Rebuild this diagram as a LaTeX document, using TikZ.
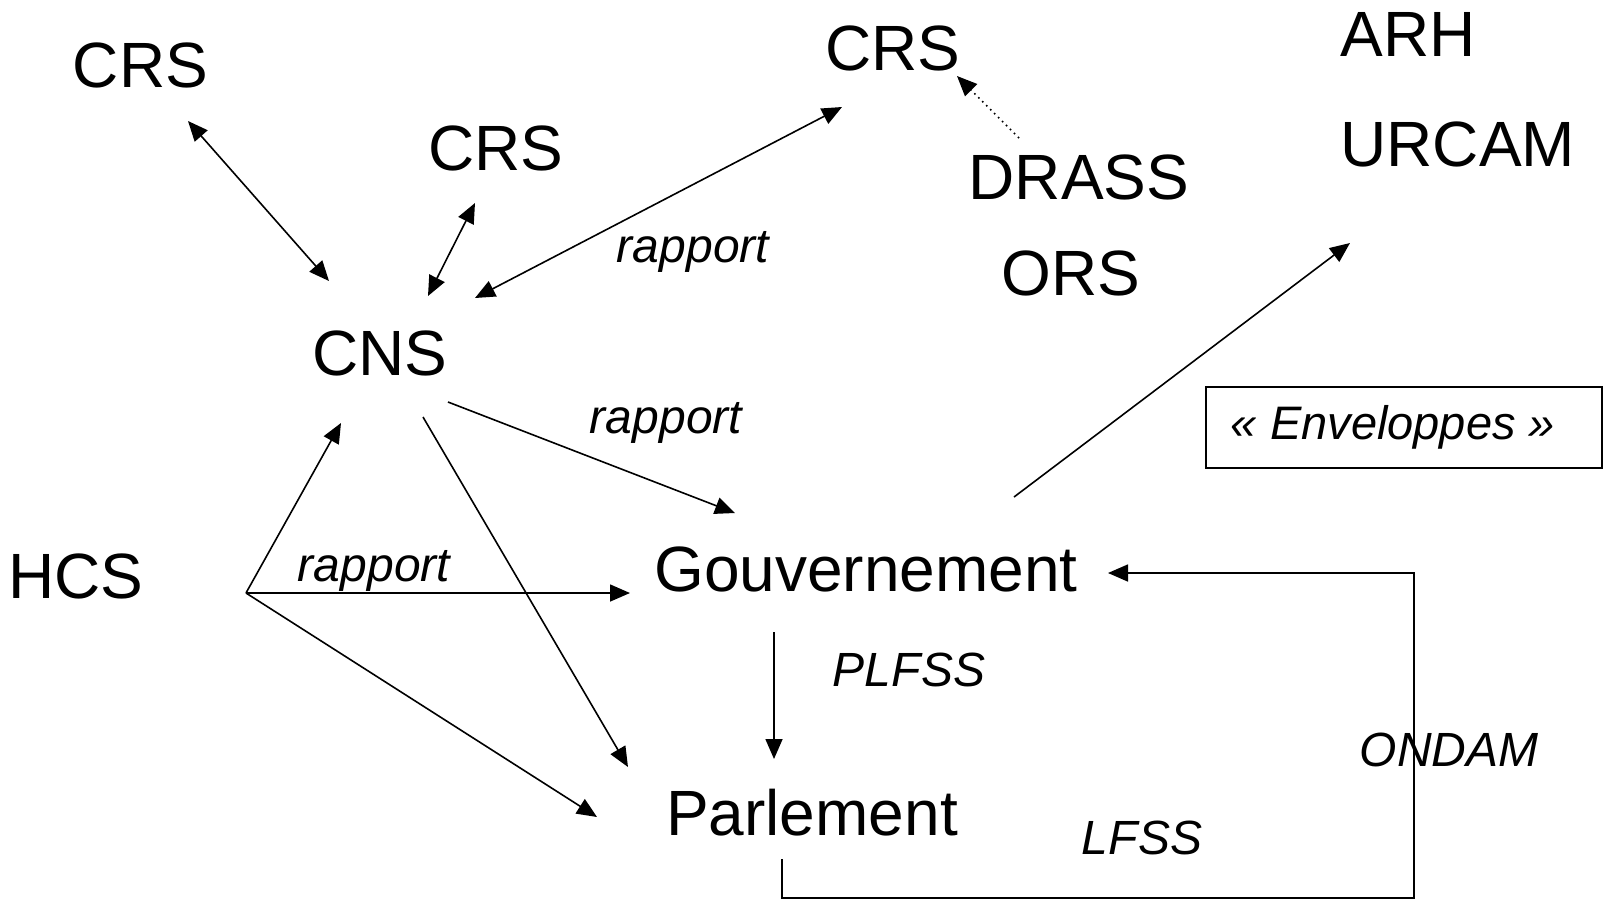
\documentclass[tikz,border=0pt]{standalone}
\usepackage{fontspec}
\setmainfont{Liberation Sans}
\usetikzlibrary{arrows.meta}
\begin{document}
\begin{tikzpicture}[x=0.5pt,y=-0.5pt,
  big/.style={font=\fontsize{32}{36}\selectfont, inner sep=0pt},
  lbl/.style={font=\fontsize{24}{28}\selectfont\itshape, inner sep=0pt},
  tip/.style={},
  conn/.style={line width=0.8pt, -{Triangle[length=10pt,width=8.5pt]}},
  biconn/.style={line width=0.8pt, {Triangle[length=10pt,width=8.5pt]}-{Triangle[length=10pt,width=8.5pt]}},
  plain/.style={line width=0.8pt}]
\useasboundingbox (0,0) rectangle (1608,907);
% text nodes
\node[big] (crs1) at (140.5,65) {CRS};
\node[big] (crs2) at (496,148) {CRS};
\node[big] (crs3) at (893,48) {CRS};
\node[big, anchor=west] (arh) at (1340,34) {ARH};
\node[big, anchor=west] (urcam) at (1340,144) {URCAM};
\node[big] (drass) at (1079,177) {DRASS};
\node[big] (ors) at (1071,273) {ORS};
\node[big] (cns) at (380,353) {CNS};
\node[big] (hcs) at (76,576) {HCS};
\node[big] (gouv) at (866,569) {Gouvernement};
\node[big] (parl) at (812,813) {Parlement};
\node[draw, line width=0.8pt, minimum width=198pt, minimum height=40.5pt, inner sep=0pt] (env) at (1404,427.5) {};
\node[lbl, font=\fontsize{23.5}{28}\selectfont\itshape] (envtxt) at (1393,427) {« Enveloppes »};
% labels
\node[lbl] (r1) at (693,252) {rapport};
\node[lbl] (r2) at (666,423) {rapport};
\node[lbl] (r3) at (374,571) {rapport};
\node[lbl] (plfss) at (909,670) {PLFSS};
\node[lbl] (ondam) at (1449,750) {ONDAM};
\node[lbl] (lfss) at (1142,838) {LFSS};
% endpoints
\coordinate (a1) at (188,121); \coordinate (b1) at (329,281);
\coordinate (a2) at (475,203); \coordinate (b2) at (428,296);
\coordinate (a3) at (842,107); \coordinate (b3) at (475,298);
\coordinate (a4) at (1019,138); \coordinate (b4) at (957,76);
\coordinate (a5) at (448,402); \coordinate (b5) at (735,513);
\coordinate (a6) at (423,417); \coordinate (b6) at (628,767);
\coordinate (hj) at (246,593);
\coordinate (b7) at (341,423);
\coordinate (b8) at (630,593);
\coordinate (b9) at (597,817);
\coordinate (a10) at (1014,497); \coordinate (b10) at (1350,243);
\coordinate (a11) at (774,632); \coordinate (b11) at (774,759);
\coordinate (a12) at (782,859); \coordinate (k1) at (782,898);
\coordinate (k2) at (1414,898); \coordinate (k3) at (1414,573);
\coordinate (b12) at (1108,573);
% connectors
\draw[biconn] (a1) -- (b1);
\draw[biconn] (a2) -- (b2);
\draw[biconn] (a3) -- (b3);
\draw[conn, dotted] (a4) -- (b4);
\draw[conn] (a5) -- (b5);
\draw[conn] (a6) -- (b6);
\draw[conn] (hj) -- (b7);
\draw[conn] (hj) -- (b8);
\draw[conn] (hj) -- (b9);
\draw[conn] (a10) -- (b10);
\draw[conn] (a11) -- (b11);
\draw[conn] (a12) -- (k1) -- (k2) -- (k3) -- (b12);
\end{tikzpicture}
\end{document}
